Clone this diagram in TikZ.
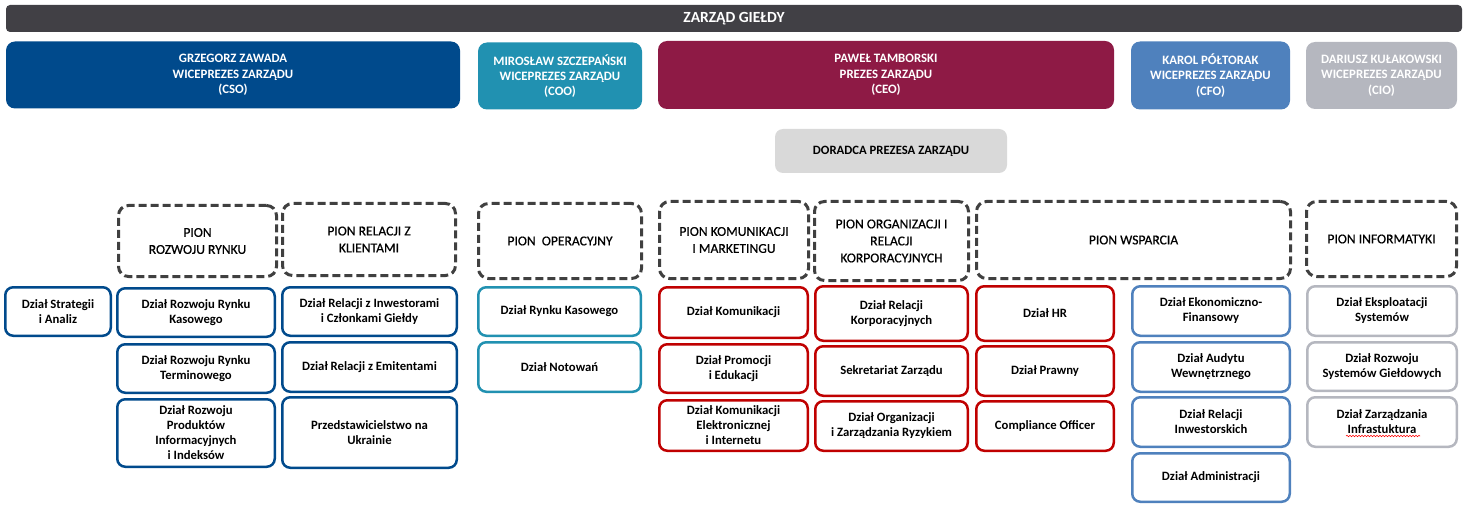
\documentclass[tikz,border=0pt]{standalone}
\usepackage{fontspec}
\setmainfont{Carlito}
\usepackage{tikz}
\usetikzlibrary{decorations.pathmorphing}
\usepackage{xcolor}
\definecolor{barcolor}{HTML}{414045}
\definecolor{csoblue}{HTML}{004A8C}
\definecolor{cooteal}{HTML}{2191B1}
\definecolor{ceored}{HTML}{8E1A45}
\definecolor{cfoblue}{HTML}{4F81BD}
\definecolor{ciogray}{HTML}{B5B7BF}
\definecolor{advisor}{HTML}{D9D9D9}
\definecolor{deptred}{HTML}{C00000}
\definecolor{pionline}{HTML}{404040}

\tikzset{
  exec/.style={fill=#1,rounded corners=9pt,text=white,align=center,inner sep=0pt,
    font=\bfseries\fontsize{12.8}{15.3}\selectfont},
  pion/.style={draw=pionline,line width=3pt,dash pattern=on 8pt off 4pt,rounded corners=10pt,
    align=center,inner sep=0pt,font=\addfontfeature{FakeBold=0.6}\fontsize{13.6}{17}\selectfont},
  dzial/.style={draw=#1,line width=2.5pt,rounded corners=8pt,fill=white,align=center,
    inner sep=0pt,font=\bfseries\fontsize{12.7}{15}\selectfont},
}

\begin{document}
\begin{tikzpicture}[x=1pt,y=-1pt]
  \useasboundingbox (0,0) rectangle (1464,513);
  \node[exec=barcolor,rounded corners=4pt,minimum width=1456pt,minimum height=27pt,
    font=\bfseries\fontsize{15.5}{17}\selectfont] (zarzad) at (734,18.5) {ZARZĄD GIEŁDY};

  \node[exec=csoblue,minimum width=454pt,minimum height=67pt] (cso) at (233,75) {GRZEGORZ ZAWADA\\WICEPREZES ZARZĄDU\\(CSO)};
  \node[exec=cooteal,minimum width=164pt,minimum height=67pt] (coo) at (560,76) {MIROSŁAW SZCZEPAŃSKI\\WICEPREZES ZARZĄDU\\(COO)};
  \node[exec=ceored,minimum width=456pt,minimum height=68pt] (ceo) at (886,75) {PAWEŁ TAMBORSKI\\PREZES ZARZĄDU\\(CEO)};
  \node[exec=cfoblue,minimum width=159pt,minimum height=68pt] (cfo) at (1210.5,75.5) {KAROL PÓŁTORAK\\WICEPREZES ZARZĄDU\\(CFO)};
  \node[exec=ciogray,minimum width=151pt,minimum height=67pt] (cio) at (1381.5,75.5) {DARIUSZ KUŁAKOWSKI\\WICEPREZES ZARZĄDU\\(CIO)};
  \node[exec=advisor,text=black,rounded corners=8pt,minimum width=232pt,minimum height=44pt,
    font=\bfseries\fontsize{12.7}{15}\selectfont] (doradca) at (891,151) {DORADCA PREZESA ZARZĄDU};

  \node[pion,minimum width=158pt,minimum height=71pt] (pionrr) at (197.5,241) {PION\\ROZWOJU RYNKU};
  \node[pion,minimum width=173pt,minimum height=72pt] (pionrk) at (369,239.5) {PION RELACJI Z\\KLIENTAMI};
  \node[pion,minimum width=163pt,minimum height=75pt] (pionop) at (560,241) {PION~ OPERACYJNY};
  \node[pion,minimum width=149pt,minimum height=77pt] (pionkm) at (734,240) {PION KOMUNIKACJI\\I MARKETINGU};
  \node[pion,minimum width=154pt,minimum height=79pt] (pionok) at (891.5,241) {PION ORGANIZACJI I\\RELACJI\\KORPORACYJNYCH};
  \node[pion,minimum width=314pt,minimum height=77pt] (pionws) at (1133.5,240) {PION WSPARCIA};
  \node[pion,minimum width=150pt,minimum height=75pt] (pionit) at (1381.5,239) {PION INFORMATYKI};

  \node[dzial=csoblue,minimum width=105.5pt,minimum height=48.5pt] (strat) at (58,311.5) {Dział Strategii\\i Analiz};

  \node[dzial=csoblue,minimum width=157.5pt,minimum height=48.5pt] (rr1) at (196,312.5) {Dział Rozwoju Rynku\\Kasowego};
  \node[dzial=csoblue,minimum width=157.5pt,minimum height=48.5pt] (rr2) at (196,368.5) {Dział Rozwoju Rynku\\Terminowego};
  \node[dzial=csoblue,minimum width=157.5pt,minimum height=67.5pt] (rr3) at (196,433) {Dział Rozwoju\\Produktów\\Informacyjnych\\i Indeksów};

  \node[dzial=csoblue,minimum width=174.5pt,minimum height=48.5pt] (rk1) at (369.5,311.5) {Dział Relacji z Inwestorami\\i Członkami Giełdy};
  \node[dzial=csoblue,minimum width=174.5pt,minimum height=49.5pt] (rk2) at (369.5,367) {Dział Relacji z Emitentami};
  \node[dzial=csoblue,minimum width=174.5pt,minimum height=70.5pt] (rk3) at (369.5,432.5) {Przedstawicielstwo na\\Ukrainie};

  \node[dzial=cooteal,minimum width=162.5pt,minimum height=48.5pt] (op1) at (559.5,311.5) {Dział Rynku Kasowego};
  \node[dzial=cooteal,minimum width=162.5pt,minimum height=49.5pt] (op2) at (559.5,367) {Dział Notowań};

  \node[dzial=deptred,minimum width=148.5pt,minimum height=50.5pt] (km1) at (733.5,312.5) {Dział Komunikacji};
  \node[dzial=deptred,minimum width=148.5pt,minimum height=48.5pt] (km2) at (733.5,368.5) {Dział Promocji\\i Edukacji};
  \node[dzial=deptred,minimum width=148.5pt,minimum height=50.5pt] (km3) at (733.5,425.5) {Dział Komunikacji\\Elektronicznej\\i Internetu};

  \node[dzial=deptred,minimum width=152.5pt,minimum height=54.5pt] (ok1) at (891.5,313.5) {Dział Relacji\\Korporacyjnych};
  \node[dzial=deptred,minimum width=152.5pt,minimum height=49.5pt] (ok2) at (891.5,371) {Sekretariat Zarządu};
  \node[dzial=deptred,minimum width=152.5pt,minimum height=49.5pt] (ok3) at (891.5,426) {Dział Organizacji\\i Zarządzania Ryzykiem};

  \node[dzial=deptred,minimum width=137.5pt,minimum height=54.5pt] (ws1) at (1045,313.5) {Dział HR};
  \node[dzial=deptred,minimum width=137.5pt,minimum height=49.5pt] (ws2) at (1045,371) {Dział Prawny};
  \node[dzial=deptred,minimum width=137.5pt,minimum height=49.5pt] (ws3) at (1045,426) {Compliance Officer};

  \node[dzial=cfoblue,minimum width=157.5pt,minimum height=49.5pt] (fi1) at (1211,311) {Dział Ekonomiczno-\\Finansowy};
  \node[dzial=cfoblue,minimum width=157.5pt,minimum height=49.5pt] (fi2) at (1211,367) {Dział Audytu\\Wewnętrznego};
  \node[dzial=cfoblue,minimum width=157.5pt,minimum height=49.5pt] (fi3) at (1211,422) {Dział Relacji\\Inwestorskich};
  \node[dzial=cfoblue,minimum width=157.5pt,minimum height=48.5pt] (fi4) at (1211,477.5) {Dział Administracji};

  \node[dzial=ciogray,minimum width=149.5pt,minimum height=49.5pt] (it1) at (1382,311) {Dział Eksploatacji\\Systemów};
  \node[dzial=ciogray,minimum width=149.5pt,minimum height=48.5pt] (it2) at (1382,366.5) {Dział Rozwoju\\Systemów Giełdowych};
  \node[dzial=ciogray,minimum width=149.5pt,minimum height=49.5pt] (it3) at (1382,422) {Dział Zarządzania\\Infrastuktura};
  \draw[red,line width=0.6pt,decorate,decoration={snake,amplitude=0.7pt,segment length=3pt}]
    ([xshift=-36pt,yshift=12pt]it3.south) -- ([xshift=38pt,yshift=12pt]it3.south);
\end{tikzpicture}
\end{document}
